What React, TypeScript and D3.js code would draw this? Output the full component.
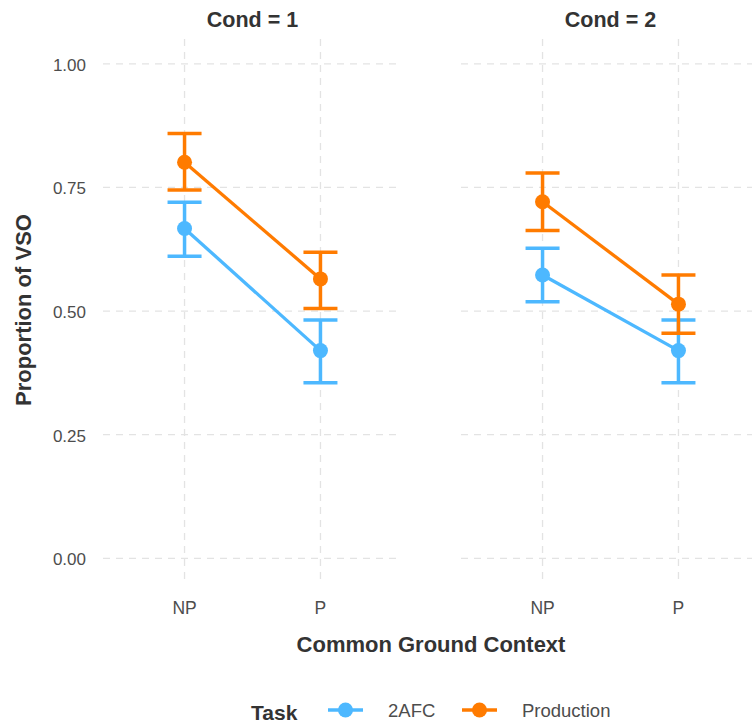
import React from "react";
import * as d3 from "d3";

const conditions = ["1", "2"];
const contexts = ["NP", "P"];
const tasks = ["2AFC", "Production"];
const taskColors = ["#4DB8FF", "#FF7B00"];

// values per condition, [NP, P]
const afcMean = [[0.667, 0.42], [0.573, 0.42]];
const afcLow = [[0.611, 0.355], [0.519, 0.355]];
const afcHigh = [[0.72, 0.482], [0.627, 0.482]];
const prodMean = [[0.801, 0.565], [0.721, 0.514]];
const prodLow = [[0.745, 0.505], [0.663, 0.455]];
const prodHigh = [[0.859, 0.619], [0.779, 0.573]];

const yTicks = [0, 0.25, 0.5, 0.75, 1];

const W = 752;
const H = 726;
const panelX = [103, 461];
const panelW = 299;
const FONT = "'Liberation Sans', Arial, sans-serif";

export default function App() {
  const y = d3.scaleLinear().domain([0, 1]).range([558.3, 63.8]);
  const yTop = y(1.05);
  const yBot = y(-0.05);
  const series = [
    { mean: afcMean, low: afcLow, high: afcHigh, color: taskColors[0] },
    { mean: prodMean, low: prodLow, high: prodHigh, color: taskColors[1] },
  ];
  const fmt = d3.format(".2f");
  return (
    <svg
      width={W}
      height={H}
      style={{ position: "absolute", left: 0, top: 0, background: "#fff" }}
      fontFamily={FONT}
    >
      {conditions.map((c, ci) => {
        const x = d3
          .scalePoint<string>()
          .domain(contexts)
          .range([panelX[ci], panelX[ci] + panelW])
          .padding(0.6);
        const cx = panelX[ci] + panelW / 2;
        const lineGen = d3
          .line<number>()
          .x((_, i) => x(contexts[i]) as number)
          .y((v) => y(v));
        return (
          <g key={c}>
            {yTicks.map((t) => (
              <line
                key={t}
                x1={panelX[ci]}
                x2={panelX[ci] + panelW}
                y1={y(t)}
                y2={y(t)}
                stroke="#e3e3e3"
                strokeWidth={1.3}
                strokeDasharray="7,6"
              />
            ))}
            {contexts.map((k) => (
              <line
                key={k}
                x1={x(k)}
                x2={x(k)}
                y1={yTop}
                y2={yBot}
                stroke="#e3e3e3"
                strokeWidth={1.3}
                strokeDasharray="7,6"
              />
            ))}
            <text
              x={cx}
              y={26.5}
              textAnchor="middle"
              fontWeight="bold"
              fontSize={21.5}
              fill="#333"
            >
              {`Cond = ${c}`}
            </text>
            {contexts.map((k) => (
              <text
                key={k}
                x={x(k)}
                y={614}
                textAnchor="middle"
                fontSize={17.5}
                fill="#4d4d4d"
              >
                {k}
              </text>
            ))}
            {series.map((s, si) => (
              <g key={si}>
                <path
                  d={lineGen(s.mean[ci]) || ""}
                  fill="none"
                  stroke={s.color}
                  strokeWidth={3.3}
                />
                {contexts.map((k, ki) => {
                  const px = x(k) as number;
                  return (
                    <g key={k}>
                      <line
                        x1={px}
                        x2={px}
                        y1={y(s.low[ci][ki])}
                        y2={y(s.high[ci][ki])}
                        stroke={s.color}
                        strokeWidth={3.5}
                      />
                      <line
                        x1={px - 17}
                        x2={px + 17}
                        y1={y(s.low[ci][ki])}
                        y2={y(s.low[ci][ki])}
                        stroke={s.color}
                        strokeWidth={3.5}
                      />
                      <line
                        x1={px - 17}
                        x2={px + 17}
                        y1={y(s.high[ci][ki])}
                        y2={y(s.high[ci][ki])}
                        stroke={s.color}
                        strokeWidth={3.5}
                      />
                      <circle cx={px} cy={y(s.mean[ci][ki])} r={7.5} fill={s.color} />
                    </g>
                  );
                })}
              </g>
            ))}
          </g>
        );
      })}
      {yTicks.map((t) => (
        <text
          key={t}
          x={86}
          y={y(t) + 7}
          textAnchor="end"
          fontSize={17}
          fill="#4d4d4d"
        >
          {fmt(t)}
        </text>
      ))}
      <text
        transform={`translate(31,310) rotate(-90)`}
        textAnchor="middle"
        fontWeight="bold"
        fontSize={22}
        fill="#333"
      >
        Proportion of VSO
      </text>
      <text
        x={431}
        y={652}
        textAnchor="middle"
        fontWeight="bold"
        fontSize={22}
        fill="#333"
      >
        Common Ground Context
      </text>
      <g>
        <text x={251} y={720} fontWeight="bold" fontSize={21} fill="#333">
          Task
        </text>
        {tasks.map((t, i) => {
          const kx = [328, 462][i];
          return (
            <g key={t}>
              <line
                x1={kx}
                x2={kx + 35}
                y1={710}
                y2={710}
                stroke={taskColors[i]}
                strokeWidth={3.5}
              />
              <circle cx={kx + 17.5} cy={710} r={7.5} fill={taskColors[i]} />
              <text x={[388, 522][i]} y={717} fontSize={18.5} fill="#4d4d4d">
                {t}
              </text>
            </g>
          );
        })}
      </g>
    </svg>
  );
}
